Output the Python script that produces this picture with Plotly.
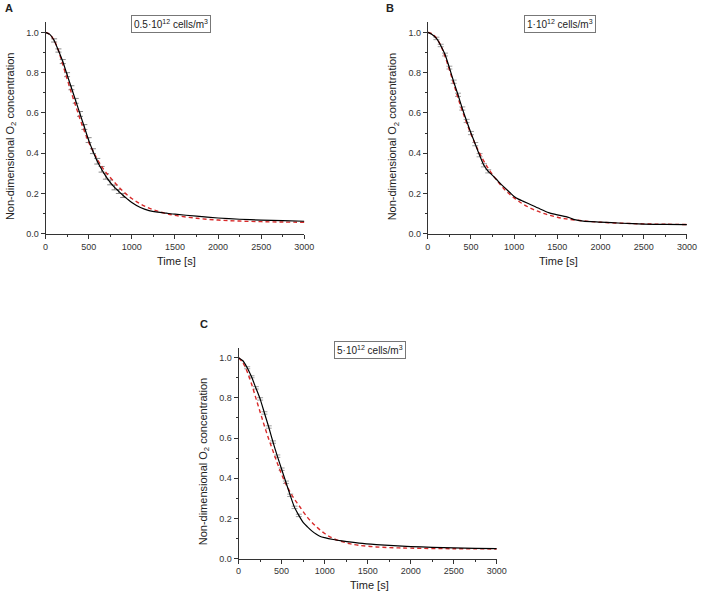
import plotly.graph_objects as go

# ---------------- data ----------------
time_meas_a = [0, 50, 100, 150, 200, 250, 300, 350, 400, 450, 500, 550, 600, 650, 700, 750, 800, 850, 900, 950,
               1000, 1100, 1200, 1300, 1400, 1500, 1750, 2000, 2250, 2500, 2750, 3000]
meas_a = [1.0, 0.99, 0.96, 0.91, 0.855, 0.79, 0.725, 0.66, 0.595, 0.53, 0.465, 0.41, 0.36, 0.32, 0.285, 0.255,
          0.23, 0.21, 0.19, 0.172, 0.155, 0.13, 0.115, 0.107, 0.102, 0.097, 0.087, 0.078, 0.072, 0.068, 0.065, 0.062]
time_fit_a = [0, 50, 100, 150, 200, 250, 300, 350, 400, 450, 500, 550, 600, 650, 700, 800, 900, 1000, 1100, 1200,
              1300, 1400, 1500, 1750, 2000, 2250, 2500, 2750, 3000]
fit_a = [1.0, 0.99, 0.96, 0.91, 0.84, 0.77, 0.70, 0.635, 0.57, 0.51, 0.455, 0.41, 0.37, 0.335, 0.305, 0.255, 0.21,
         0.175, 0.148, 0.127, 0.112, 0.1, 0.091, 0.077, 0.068, 0.063, 0.06, 0.058, 0.057]
time_err_a = [100, 150, 200, 250, 300, 350, 400, 450, 500, 550, 600, 650, 700, 750, 800, 850, 900]
val_err_a = [0.96, 0.91, 0.855, 0.79, 0.725, 0.66, 0.595, 0.53, 0.465, 0.41, 0.36, 0.32, 0.285, 0.255, 0.23, 0.21, 0.19]
err_a = [0.008, 0.008, 0.01, 0.01, 0.01, 0.012, 0.012, 0.012, 0.012, 0.012, 0.014, 0.014, 0.014, 0.012, 0.012, 0.01, 0.01]

time_meas_b = [0, 50, 100, 150, 200, 250, 300, 350, 400, 450, 500, 550, 600, 650, 700, 750, 800, 850, 900, 950,
               1000, 1050, 1100, 1200, 1300, 1400, 1500, 1600, 1650, 1700, 1800, 2000, 2250, 2500, 2750, 3000]
meas_b = [1.0, 0.99, 0.97, 0.935, 0.89, 0.825, 0.755, 0.69, 0.622, 0.56, 0.50, 0.445, 0.39, 0.34, 0.31, 0.29,
          0.268, 0.245, 0.225, 0.205, 0.185, 0.172, 0.162, 0.143, 0.123, 0.105, 0.094, 0.085, 0.078, 0.07, 0.063,
          0.058, 0.052, 0.048, 0.046, 0.045]
time_fit_b = [0, 50, 100, 150, 200, 250, 300, 350, 400, 500, 600, 700, 800, 900, 1000, 1100, 1200, 1300, 1400,
              1500, 1600, 1800, 2000, 2250, 2500, 2750, 3000]
fit_b = [1.0, 0.993, 0.972, 0.935, 0.88, 0.815, 0.745, 0.675, 0.61, 0.495, 0.40, 0.325, 0.265, 0.215, 0.178,
         0.148, 0.125, 0.107, 0.093, 0.082, 0.074, 0.064, 0.057, 0.052, 0.049, 0.047, 0.046]
time_err_b = [100, 150, 200, 250, 300, 350, 400, 450, 500, 550, 600, 650, 700]
val_err_b = [0.97, 0.935, 0.89, 0.825, 0.755, 0.69, 0.622, 0.56, 0.50, 0.445, 0.39, 0.34, 0.31]
err_b = [0.006, 0.006, 0.007, 0.007, 0.008, 0.008, 0.008, 0.008, 0.008, 0.008, 0.008, 0.008, 0.008]

time_meas_c = [0, 50, 100, 150, 200, 250, 300, 350, 400, 450, 500, 550, 600, 650, 700, 750, 800, 850, 900, 950,
               1000, 1100, 1200, 1400, 1600, 1800, 2000, 2250, 2500, 2750, 3000]
meas_c = [1.0, 0.985, 0.95, 0.905, 0.85, 0.795, 0.725, 0.655, 0.58, 0.51, 0.445, 0.38, 0.315, 0.255, 0.215,
          0.18, 0.158, 0.138, 0.122, 0.11, 0.104, 0.095, 0.088, 0.077, 0.07, 0.065, 0.06, 0.056, 0.053, 0.051, 0.05]
time_fit_c = [0, 50, 100, 150, 200, 250, 300, 350, 400, 450, 500, 550, 600, 650, 700, 800, 900, 1000, 1100, 1200,
              1300, 1400, 1600, 1800, 2000, 2500, 3000]
fit_c = [1.0, 0.975, 0.93, 0.87, 0.80, 0.73, 0.66, 0.595, 0.535, 0.475, 0.42, 0.37, 0.33, 0.295, 0.265, 0.205,
         0.16, 0.125, 0.10, 0.085, 0.073, 0.066, 0.058, 0.054, 0.052, 0.049, 0.048]
time_err_c = [100, 150, 200, 250, 300, 350, 400, 450, 500, 550, 600, 650, 700]
val_err_c = [0.95, 0.905, 0.85, 0.795, 0.725, 0.655, 0.58, 0.51, 0.445, 0.38, 0.315, 0.255, 0.215]
err_c = [0.005, 0.005, 0.006, 0.006, 0.006, 0.006, 0.006, 0.006, 0.006, 0.006, 0.006, 0.006, 0.006]

panel_labels = ["A", "B", "C"]
concentration_labels = ["0.5·10<sup>12</sup> cells/m<sup>3</sup>",
                        "1·10<sup>12</sup> cells/m<sup>3</sup>",
                        "5·10<sup>12</sup> cells/m<sup>3</sup>"]
x_title = "Time [s]"
y_title = "Non-dimensional O<sub>2</sub> concentration"

# ---------------- figure ----------------
W, H = 708, 598
FONT = "Liberation Sans, Arial, sans-serif"

panels = [
    dict(t=time_meas_a, y=meas_a, tf=time_fit_a, f=fit_a, te=time_err_a, ve=val_err_a, e=err_a,
         x0=43.3, x1=307.0, y0=235.7, y1=22.5, ecol="#8a8a8a"),
    dict(t=time_meas_b, y=meas_b, tf=time_fit_b, f=fit_b, te=time_err_b, ve=val_err_b, e=err_b,
         x0=432.7, x1=696.7, y0=235.7, y1=22.5, ecol="#a0a0a0"),
    dict(t=time_meas_c, y=meas_c, tf=time_fit_c, f=fit_c, te=time_err_c, ve=val_err_c, e=err_c,
         x0=240.0, x1=503.0, y0=563.3, y1=350.6, ecol="#a0a0a0"),
]

fig = go.Figure()
layout = dict(width=W, height=H, margin=dict(l=0, r=0, t=0, b=0),
              paper_bgcolor="white", plot_bgcolor="white", showlegend=False,
              font=dict(family=FONT, color="#222"))

axis_common = dict(showline=True, linecolor="#333", linewidth=1, ticks="outside", ticklen=4,
                   tickcolor="#333", tickwidth=1, showgrid=False, zeroline=False,
                   tickfont=dict(family=FONT, size=9, color="#333"))


def ann(text, px, py, size, **kw):
    d = dict(text=text, x=px / W, y=1 - py / H, xref="paper", yref="paper", showarrow=False,
             xanchor="center", yanchor="middle", font=dict(family=FONT, size=size, color="#222"))
    d.update(kw)
    return d


annotations = []
for i, p in enumerate(panels):
    n = "" if i == 0 else str(i + 1)
    xa, ya = "x" + n, "y" + n
    fig.add_trace(go.Scatter(x=p["te"], y=p["ve"], mode="markers", xaxis=xa, yaxis=ya,
                             marker=dict(size=1, color="rgba(0,0,0,0)"),
                             error_y=dict(type="data", array=p["e"], color=p["ecol"], thickness=1, width=3),
                             hoverinfo="skip"))
    fig.add_trace(go.Scatter(x=p["tf"], y=p["f"], mode="lines", xaxis=xa, yaxis=ya,
                             line=dict(color="#d82a2a", width=1.4, dash="4px,3px", shape="spline")))
    fig.add_trace(go.Scatter(x=p["t"], y=p["y"], mode="lines", xaxis=xa, yaxis=ya,
                             line=dict(color="black", width=1.2, shape="spline", smoothing=0.6)))
    layout["xaxis" + n] = dict(axis_common, domain=[p["x0"] / W, p["x1"] / W], anchor=ya,
                               range=[0, 3000], tick0=0, dtick=500,
                               minor=dict(ticks="outside", ticklen=2, dtick=250, tickcolor="#333"))
    layout["yaxis" + n] = dict(axis_common, domain=[1 - p["y0"] / H, 1 - p["y1"] / H], anchor=xa,
                               range=[0, 1.05], tick0=0, dtick=0.2, tickformat=".1f",
                               minor=dict(ticks="outside", ticklen=2, dtick=0.1, tickcolor="#333"))
    annotations.append(ann(x_title, p["x0"] + 133, p["y0"] + 27, 11))
    annotations.append(ann(y_title, p["x0"] - 35, (p["y0"] + p["y1"]) / 2 + 8, 11, textangle=-90))

# concentration boxes
box_pos = [(171.5, 24.5), (567.0, 24.5), (374.0, 352.5)]
for (bx, by), txt in zip(box_pos, concentration_labels):
    annotations.append(ann(txt, bx, by, 10, bordercolor="#777", borderwidth=1, borderpad=2, bgcolor="white"))

# panel letters
letter_pos = [(6, 8), (394, 8), (205, 327)]
for (lx, ly), txt in zip(letter_pos, panel_labels):
    annotations.append(ann("<b>" + txt + "</b>", lx, ly, 11))

layout["annotations"] = annotations
fig.update_layout(**layout)
fig.write_html("out.html", config={"displayModeBar": False},
               post_script="document.body.style.margin='0';document.body.style.padding='0';")
